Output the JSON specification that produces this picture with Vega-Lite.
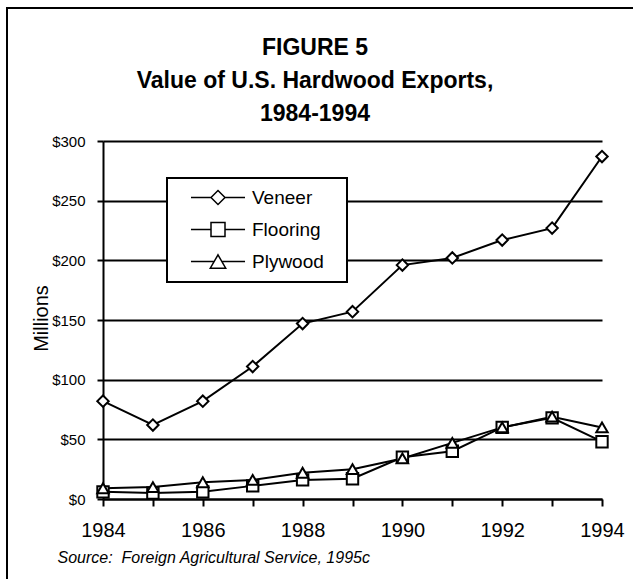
{
  "$schema": "https://vega.github.io/schema/vega-lite/v6.json",
  "width": 626,
  "height": 571,
  "autosize": {"type": "none"},
  "padding": {"left": 7, "top": 8, "right": 0, "bottom": 0},
  "background": "white",
  "title": {
    "text": ["FIGURE 5", "Value of U.S. Hardwood Exports,", "1984-1994"],
    "anchor": "middle",
    "frame": "group",
    "orient": "top",
    "offset": 0,
    "baseline": "top",
    "dy": 118,
    "dx": -5,
    "font": "Liberation Sans",
    "fontSize": 23,
    "fontWeight": "bold",
    "lineHeight": 33,
    "color": "black"
  },
  "data": {
    "values": [
      {"year": 1984, "series": "Veneer", "value": 82},
      {"year": 1985, "series": "Veneer", "value": 62},
      {"year": 1986, "series": "Veneer", "value": 82},
      {"year": 1987, "series": "Veneer", "value": 111},
      {"year": 1988, "series": "Veneer", "value": 147},
      {"year": 1989, "series": "Veneer", "value": 157},
      {"year": 1990, "series": "Veneer", "value": 196},
      {"year": 1991, "series": "Veneer", "value": 202},
      {"year": 1992, "series": "Veneer", "value": 217},
      {"year": 1993, "series": "Veneer", "value": 227},
      {"year": 1994, "series": "Veneer", "value": 287},
      {"year": 1984, "series": "Flooring", "value": 6},
      {"year": 1985, "series": "Flooring", "value": 5},
      {"year": 1986, "series": "Flooring", "value": 6},
      {"year": 1987, "series": "Flooring", "value": 11},
      {"year": 1988, "series": "Flooring", "value": 16},
      {"year": 1989, "series": "Flooring", "value": 17},
      {"year": 1990, "series": "Flooring", "value": 35},
      {"year": 1991, "series": "Flooring", "value": 40},
      {"year": 1992, "series": "Flooring", "value": 60},
      {"year": 1993, "series": "Flooring", "value": 68},
      {"year": 1994, "series": "Flooring", "value": 48},
      {"year": 1984, "series": "Plywood", "value": 9},
      {"year": 1985, "series": "Plywood", "value": 10},
      {"year": 1986, "series": "Plywood", "value": 14},
      {"year": 1987, "series": "Plywood", "value": 16},
      {"year": 1988, "series": "Plywood", "value": 22},
      {"year": 1989, "series": "Plywood", "value": 25},
      {"year": 1990, "series": "Plywood", "value": 34},
      {"year": 1991, "series": "Plywood", "value": 47},
      {"year": 1992, "series": "Plywood", "value": 60},
      {"year": 1993, "series": "Plywood", "value": 69},
      {"year": 1994, "series": "Plywood", "value": 60}
    ]
  },
  "encoding": {
    "x": {
      "field": "year",
      "type": "quantitative",
      "scale": {"domain": [1984, 1994], "range": [96, 595], "nice": false, "zero": false},
      "axis": {
        "values": [1984, 1985, 1986, 1987, 1988, 1989, 1990, 1991, 1992, 1993, 1994],
        "format": "d",
        "labelExpr": "datum.value % 2 === 0 ? datum.label : ''",
        "offset": -80,
        "grid": false,
        "domainColor": "black",
        "domainWidth": 2,
        "tickColor": "black",
        "tickWidth": 2,
        "tickSize": 7,
        "labelFont": "Liberation Sans",
        "labelFontSize": 20,
        "labelColor": "black",
        "labelPadding": 14,
        "labelFlush": false,
        "labelOverlap": false,
        "title": "Source:\u00a0 Foreign Agricultural Service, 1995c",
        "titleFont": "Liberation Sans",
        "titleFontSize": 16,
        "titleFontStyle": "italic",
        "titleFontWeight": "normal",
        "titleColor": "black",
        "titleAnchor": "start",
        "titleAlign": "left",
        "titleBaseline": "middle",
        "titleX": 50,
        "titleY": 58
      }
    },
    "y": {
      "field": "value",
      "type": "quantitative",
      "scale": {"domain": [0, 300], "range": [491, 133], "nice": false, "zero": true},
      "axis": {
        "values": [0, 50, 100, 150, 200, 250, 300],
        "labelExpr": "'$' + datum.value",
        "offset": -96,
        "grid": true,
        "gridColor": "black",
        "gridWidth": 2,
        "gridOpacity": 1,
        "domainColor": "black",
        "domainWidth": 2,
        "tickColor": "black",
        "tickWidth": 2,
        "tickSize": 6,
        "labelFont": "Liberation Sans",
        "labelFontSize": 15,
        "labelColor": "black",
        "labelPadding": 12,
        "labelFlush": false,
        "labelOverlap": false,
        "title": "Millions",
        "titleFont": "Liberation Sans",
        "titleFontSize": 20,
        "titleFontWeight": "normal",
        "titleColor": "black",
        "titleAngle": -90,
        "titleX": -62,
        "titleY": 310,
        "titleAlign": "center",
        "titleBaseline": "middle"
      }
    }
  },
  "layer": [
    {
      "mark": {"type": "line", "stroke": "black", "strokeWidth": 2},
      "encoding": {"detail": {"field": "series", "type": "nominal"}}
    },
    {
      "mark": {"type": "point", "filled": true, "fill": "white", "stroke": "black", "strokeWidth": 2, "size": 130, "opacity": 1},
      "encoding": {
        "shape": {
          "field": "series",
          "type": "nominal",
          "scale": {"domain": ["Veneer", "Flooring", "Plywood"], "range": ["diamond", "square", "triangle-up"]},
          "legend": null
        }
      }
    },
    {
      "transform": [{"filter": "datum.year > 3000"}],
      "mark": {"type": "point", "filled": true, "fill": "white", "stroke": "black", "strokeWidth": 2, "size": 196, "opacity": 1},
      "encoding": {
        "shape": {
          "field": "series",
          "type": "nominal",
          "scale": {
            "domain": ["Veneer", "Flooring", "Plywood"],
            "range": [
              "M0.64,0L3.5,0M5.5,0L8.36,0M3.5,0L4.5,-1L5.5,0L4.5,1Z",
              "M0.64,0L3.5,0M5.5,0L8.36,0M3.5,-1L5.5,-1L5.5,1L3.5,1Z",
              "M0.64,0L3.95,0M5.05,0L8.36,0M4.5,-0.95L5.6,0.95L3.4,0.95Z"
            ]
          },
          "legend": {
            "title": ".",
            "titleOrient": "right",
            "titleColor": "white",
            "titleFontSize": 2,
            "titlePadding": 12,
            "orient": "none",
            "legendX": 160,
            "legendY": 170,
            "direction": "vertical",
            "padding": 10,
            "strokeColor": "black",
            "fillColor": "white",
            "symbolSize": 196,
            "labelOffset": 56,
            "labelFont": "Liberation Sans",
            "labelFontSize": 19,
            "labelColor": "black",
            "rowPadding": 11
          }
        }
      }
    }
  ],
  "resolve": {"scale": {"shape": "independent"}, "legend": {"shape": "independent"}},
  "config": {
    "view": {"stroke": "black", "strokeWidth": 2, "strokeDash": [626, 1197, 571], "fill": "white"},
    "legend": {"strokeWidth": 2},
    "font": "Liberation Sans"
  }
}
